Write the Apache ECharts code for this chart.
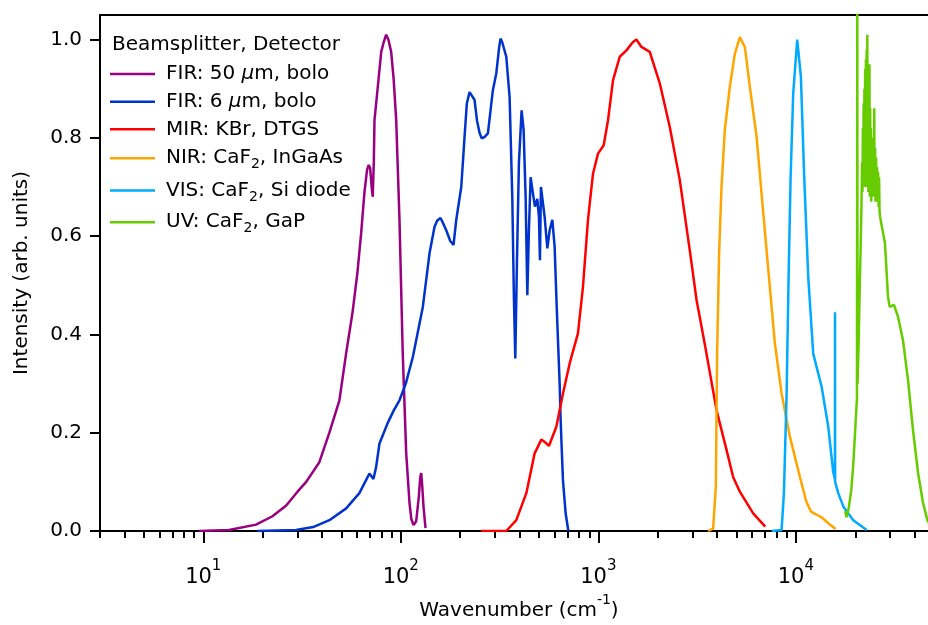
<!DOCTYPE html>
<html><head><meta charset="utf-8">
<script src="https://cdn.jsdelivr.net/npm/echarts@6/dist/echarts.min.js"></script>
<style>html,body{margin:0;padding:0;background:#fff}#c{width:928px;height:625px}</style>
</head><body><div id="c"></div>
<script>
// ---------------- data (wavenumber in cm^-1, intensity in arb. units) ----------------
const FIR50_WN = [9.5,13.5,18.5,22.4,26.3,30.0,33.2,38.7,43.5,48.9,52.9,56.9,60.3,63.0,65.5,67.5,68.8,70.0,71.2,72.1,73.0,73.6,76.5,79.6,82.0,84.3,86.5,89.4,92.0,94.8,98.5,102.3,106.5,110.7,113.0,116.0,119.7,123.4,125.5,126.9,128.5,130.3,133.4];
const FIR50_I  = [0,0.002,0.013,0.03,0.052,0.08,0.1,0.14,0.2,0.266,0.362,0.443,0.525,0.606,0.69,0.735,0.745,0.738,0.70,0.68,0.75,0.836,0.904,0.975,0.995,1.01,1.0,0.975,0.92,0.836,0.633,0.362,0.159,0.057,0.025,0.012,0.02,0.07,0.11,0.118,0.09,0.05,0.006];

const FIR6_WN = [18.8,29.5,36,43.5,52.9,61.7,66.8,69.4,71,72.7,75,78,85.9,92,98.5,106,115.1,129.3,139.8,148.2,153,158.9,163,169.9,178,185,190.9,202.4,210.3,216,222.9,229,236.3,243,250.6,257,266,276.1,292.6,304.4,315,320,326,342.1,355.6,366.9,373.8,380,387.2,396.3,409,418.7,428.6,437.2,445.4,454.4,466.7,477.8,491.3,500.6,506.5,512.4,520.9,535,552.1,567.2,585.2,601.2,613.2,624.7,637.3,644.7,654,662.2,683.4,705.4];
const FIR6_I  = [0,0.002,0.008,0.022,0.046,0.077,0.104,0.117,0.115,0.106,0.13,0.178,0.22,0.245,0.266,0.3,0.354,0.456,0.565,0.619,0.632,0.637,0.628,0.612,0.59,0.582,0.633,0.70,0.802,0.87,0.893,0.886,0.877,0.836,0.81,0.799,0.802,0.809,0.897,0.931,0.985,1.002,0.995,0.965,0.883,0.68,0.477,0.351,0.544,0.748,0.856,0.816,0.68,0.48,0.612,0.72,0.687,0.66,0.676,0.639,0.551,0.70,0.70,0.639,0.575,0.612,0.633,0.578,0.477,0.39,0.3,0.226,0.16,0.104,0.036,0];

const MIR_WN = [255.6,342.1,384.5,432.2,476.1,514.6,540,562.5,613.2,662.5,716.1,789,836.4,886.7,940,996.6,1065,1120,1187,1284,1388,1499,1560,1654,1822,2048,2301,2586,2906,3144,3462,3968,4460,4816,5208,6083,7000];
const MIR_I  = [0,0,0.022,0.077,0.158,0.186,0.18,0.173,0.212,0.28,0.341,0.402,0.497,0.633,0.727,0.768,0.785,0.836,0.917,0.965,0.978,0.995,1.0,0.985,0.975,0.911,0.822,0.714,0.571,0.47,0.38,0.246,0.165,0.11,0.08,0.036,0.009];

const NIR_WN = [3597,3814,3936,3996,4090,4206,4371,4634,4912,5208,5521,5853,6330,7112,7834,8472,9333,10490,11300,11900,12500,13500,15000,15900];
const NIR_I  = [0,0.005,0.09,0.361,0.565,0.70,0.816,0.904,0.971,1.005,0.985,0.904,0.802,0.571,0.382,0.28,0.192,0.11,0.06,0.04,0.035,0.028,0.012,0.004];

const VIS_WN = [7540,8472,8705,8984,9195,9412,9701,10165,10612,11030,11560,12250,13520,14600,15470,15780,15798,15815,16400,17390,19540,22850];
const VIS_I  = [0,0.002,0.077,0.28,0.517,0.72,0.89,1.0,0.924,0.72,0.517,0.361,0.293,0.212,0.12,0.105,0.445,0.1,0.077,0.05,0.022,0.002];

const UV_WN = [17800,18050,18500,19090,19500,19860,20200,20400,20480,20540,20810,21060,21300,21500,21650,21750,21850,21950,22050,22150,22250,22350,22450,22550,22650,22750,22850,22950,23020,23100,23200,23300,23400,23500,23600,23700,23800,23900,24000,24100,24200,24300,24400,24500,24650,24800,24950,25050,25200,25350,25500,25650,25800,25950,26100,26250,26400,26550,26700,27090,28290,29300,29890,31420,32920,34900,37000,39220,41590,44080,46350,48000];
const UV_I  = [0.04,0.028,0.045,0.083,0.13,0.185,0.24,0.27,1.08,0.3,0.388,0.49,0.58,0.66,0.75,0.69,0.82,0.70,0.87,0.72,0.90,0.70,0.94,0.71,0.96,0.70,0.98,0.72,1.01,0.70,0.93,0.69,0.88,0.70,0.95,0.68,0.86,0.69,0.82,0.67,0.79,0.69,0.78,0.68,0.80,0.70,0.86,0.68,0.78,0.67,0.76,0.67,0.74,0.68,0.73,0.66,0.72,0.65,0.64,0.626,0.585,0.476,0.456,0.46,0.436,0.388,0.307,0.205,0.118,0.057,0.022,0.012];

const SERIES_NAMES = ['FIR: 50 μm, bolo','FIR: 6 μm, bolo','MIR: KBr, DTGS','NIR: CaF2, InGaAs','VIS: CaF2, Si diode','UV: CaF2, GaP'];
const LEGEND_TITLE = 'Beamsplitter, Detector';
const X_MIN = 3, X_MAX = 46700;
const Y_MIN = 0, Y_MAX = 1.05;
const Y_TICKS = [0,0.2,0.4,0.6,0.8,1.0];
const X_DECADES = [10,100,1000,10000];

// ---------------- styling ----------------
const FONT = '"DejaVu Sans", sans-serif';
const COLORS = ['#990080','#0033cc','#ff0000','#ffa500','#00aaff','#66cc00'];
const LEGEND_ROW_TOP = [64, 91.7, 119.3, 144.7, 177, 208.7];
const RICH_LABELS = {
  'FIR: 50 μm, bolo': '{n|FIR: 50 }{i|μ}{n|m, bolo}',
  'FIR: 6 μm, bolo': '{n|FIR: 6 }{i|μ}{n|m, bolo}',
  'MIR: KBr, DTGS': '{n|MIR: KBr, DTGS}',
  'NIR: CaF2, InGaAs': '{n|NIR: CaF}{s|2}{n|, InGaAs}',
  'VIS: CaF2, Si diode': '{n|VIS: CaF}{s|2}{n|, Si diode}',
  'UV: CaF2, GaP': '{n|UV: CaF}{s|2}{n|, GaP}'
};

const XY = [[FIR50_WN,FIR50_I],[FIR6_WN,FIR6_I],[MIR_WN,MIR_I],[NIR_WN,NIR_I],[VIS_WN,VIS_I],[UV_WN,UV_I]];
const series = SERIES_NAMES.map((name,k)=>({
  name, type:'line', xAxisIndex:0, yAxisIndex:0,
  data: XY[k][0].map((x,i)=>[x, XY[k][1][i]]),
  symbol:'none', showSymbol:false, smooth:false, clip:true,
  color: COLORS[k],
  lineStyle:{color:COLORS[k], width:2.5},
  emphasis:{disabled:true}
}));

const L0 = Math.log10(X_MIN), L1 = Math.log10(X_MAX);
const minorVals = [];
[1,10,100,1000,10000].forEach(d=>{ for(let k=2;k<=9;k++){ const v=k*d; if(v>=X_MIN && v<=X_MAX) minorVals.push(Math.log10(v)); } });
const majorVals = X_DECADES.map(v=>Math.log10(v));

const legends = SERIES_NAMES.map((name,k)=>({
  data:[name], selectedMode:false, orient:'vertical',
  left:110, top: LEGEND_ROW_TOP[k],
  padding:0, itemGap:0, itemWidth:45, itemHeight:2.5, icon:'rect',
  formatter: n => RICH_LABELS[n],
  textStyle:{
    color:'#000', fontFamily:FONT, fontSize:20, padding:[0,0,0,6],
    rich:{
      n:{fontFamily:FONT, fontSize:20, lineHeight:26, color:'#000'},
      i:{fontFamily:FONT, fontSize:20, lineHeight:26, color:'#000', fontStyle:'italic'},
      s:{fontFamily:FONT, fontSize:14, lineHeight:15, color:'#000', padding:[13,0,0,0]}
    }
  }
}));

const gridBox = {left:100, right:0, top:15, bottom:94, outerBoundsMode:'none', containLabel:false};
const tickRich = {
  b:{fontFamily:FONT, fontSize:21, lineHeight:30, color:'#000'},
  p:{fontFamily:FONT, fontSize:15, lineHeight:15, color:'#000', padding:[0,0,24,0]}
};
const nameRich = {
  b:{fontFamily:FONT, fontSize:20, lineHeight:30, color:'#000'},
  p:{fontFamily:FONT, fontSize:14, lineHeight:14, color:'#000', padding:[0,0,22,0]}
};

const option = {
  animation:false,
  backgroundColor:'#fff',
  title:{text:LEGEND_TITLE, left:112, top:35, padding:0,
    textStyle:{fontFamily:FONT, fontSize:20, fontWeight:'normal', color:'#000'}},
  legend: legends,
  grid:[Object.assign({},gridBox), Object.assign({},gridBox), Object.assign({},gridBox)],
  xAxis:[
    {type:'log', logBase:10, gridIndex:0, position:'bottom', min:X_MIN, max:X_MAX,
     axisLine:{show:true, onZero:false, lineStyle:{color:'#000', width:2}},
     axisTick:{show:false}, axisLabel:{show:false}, splitLine:{show:false}, minorTick:{show:false},
     name:'{b|Wavenumber (cm}{p|-1}{b|)}', nameLocation:'middle', nameGap:65, nameMoveOverlap:false,
     nameTextStyle:{fontFamily:FONT, fontSize:20, color:'#000', rich:nameRich, padding:[0,0,0,10]}},
    {type:'log', logBase:10, gridIndex:0, position:'top', min:X_MIN, max:X_MAX,
     axisLine:{show:true, onZero:false, lineStyle:{color:'#000', width:2}},
     axisTick:{show:false}, axisLabel:{show:false}, splitLine:{show:false}},
    {type:'value', gridIndex:1, position:'bottom', min:L0, max:L1,
     axisLine:{show:false, onZero:false},
     axisTick:{show:true, length:12, inside:false, customValues:majorVals, lineStyle:{color:'#000', width:2}},
     axisLabel:{show:true, customValues:majorVals, margin:32, showMinLabel:true, showMaxLabel:true,
       formatter: v => '{b|10}{p|' + Math.round(v) + '}', rich:tickRich},
     splitLine:{show:false}},
    {type:'value', gridIndex:2, position:'bottom', min:L0, max:L1,
     axisLine:{show:false, onZero:false},
     axisTick:{show:true, length:7, inside:false, customValues:minorVals, lineStyle:{color:'#000', width:2}},
     axisLabel:{show:false}, splitLine:{show:false}}
  ],
  yAxis:[
    {type:'value', gridIndex:0, min:Y_MIN, max:Y_MAX,
     axisLine:{show:true, onZero:false, lineStyle:{color:'#000', width:2}},
     axisTick:{show:true, length:10, customValues:Y_TICKS, lineStyle:{color:'#000', width:2}},
     axisLabel:{show:true, customValues:Y_TICKS, margin:18, formatter: v => v.toFixed(1),
       fontFamily:FONT, fontSize:20, color:'#000'},
     splitLine:{show:false},
     name:'Intensity (arb. units)', nameLocation:'middle', nameGap:68, nameMoveOverlap:false,
     nameTextStyle:{fontFamily:FONT, fontSize:20, color:'#000'}},
    {type:'value', gridIndex:1, min:0, max:1, show:false},
    {type:'value', gridIndex:2, min:0, max:1, show:false}
  ],
  series
};
const chart = echarts.init(document.getElementById('c'), null, {renderer:'canvas'});
chart.setOption(option);
</script>
</body></html>
